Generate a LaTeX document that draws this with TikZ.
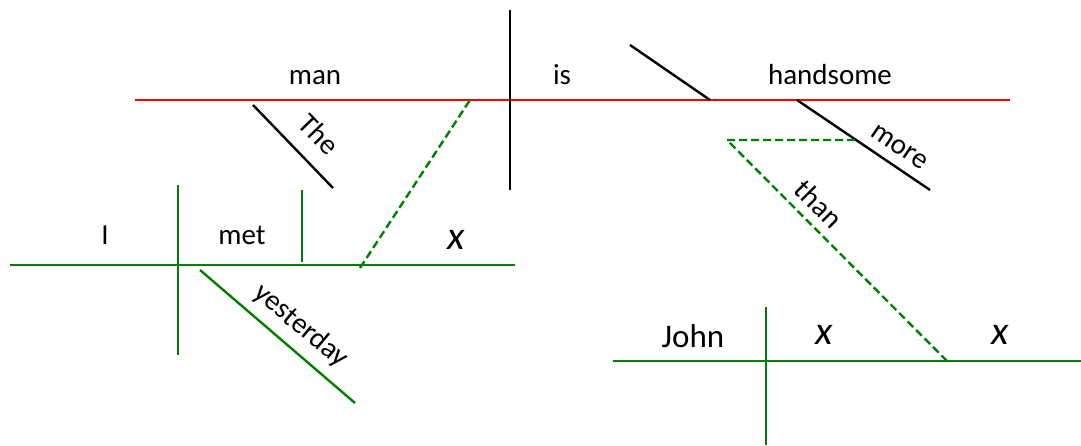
\documentclass[tikz,border=0pt]{standalone}
\usepackage{fontspec}
\setmainfont{Carlito}
\usepackage{tikz}
\usetikzlibrary{positioning, calc}
\definecolor{diagred}{RGB}{255,0,0}
\definecolor{diaggreen}{RGB}{0,128,0}

\begin{document}
\begin{tikzpicture}[x=0.5pt, y=-0.5pt,
  word/.style={font=\fontsize{14.5}{17}\selectfont, inner sep=0pt, anchor=base},
  bigword/.style={word, font=\fontsize{16.5}{19}\selectfont},
  var/.style={word, font=\fontsize{20}{23}\selectfont\itshape},
  slant/.style={font=\fontsize{14.5}{17}\selectfont, inner sep=0pt},
  mainline/.style={line width=1.2pt, diagred},
  subline/.style={line width=1.2pt, diaggreen},
  link/.style={line width=1.2pt, diaggreen, dash pattern=on 4pt off 2pt},
  modline/.style={line width=1.2pt, black}]
  \useasboundingbox (0,0) rectangle (1081,445);

  % main clause
  \coordinate (ml) at (135,100);
  \coordinate (mr) at (1010,100);
  \coordinate (vt) at (510,10);
  \coordinate (vb) at (510,190);
  \coordinate (pt) at (630,45);
  \coordinate (pb) at (710,100);
  \coordinate (tht) at (253,105);
  \coordinate (thb) at (333,188);
  \coordinate (mot) at (797,100);
  \coordinate (mob) at (930,190);
  \draw[mainline] (ml) -- (mr);
  \draw[modline] (vt) -- (vb);
  \draw[modline] (pt) -- (pb);
  \draw[modline] (tht) -- (thb);
  \draw[modline] (mot) -- (mob);
  \node[word] (man) at (315,84) {man};
  \node[word] (is) at (562,84) {is};
  \node[word] (hs) at (830,84) {handsome};
  \node[slant, rotate=-46] (the) at (319,134) {The};
  \node[slant, rotate=-34] (more) at (899,147) {more};

  % relative clause
  \coordinate (rl) at (10,265);
  \coordinate (rr) at (515,265);
  \coordinate (st) at (178,185);
  \coordinate (sb) at (178,355);
  \coordinate (ot) at (302,190);
  \coordinate (ob) at (302,262);
  \coordinate (yt) at (200,270);
  \coordinate (yb) at (355,403);
  \coordinate (rx) at (360,268);
  \coordinate (mx) at (470,100);
  \draw[subline] (rl) -- (rr);
  \draw[subline] (st) -- (sb);
  \draw[subline] (ot) -- (ob);
  \draw[subline] (yt) -- (yb);
  \draw[link] (rx) -- (mx);
  \node[word] (i) at (105,244) {I};
  \node[word] (met) at (242,244) {met};
  \node[var] (rxl) at (456,249) {x};
  \node[slant, rotate=-40] (yd) at (301,326) {yesterday};

  % comparative clause
  \coordinate (cl) at (613,361);
  \coordinate (cr) at (1081,361);
  \coordinate (ct) at (766,307);
  \coordinate (cb) at (766,445);
  \coordinate (tha) at (727,140);
  \coordinate (thm) at (855,140);
  \coordinate (thx) at (947,361);
  \draw[subline] (cl) -- (cr);
  \draw[subline] (ct) -- (cb);
  \draw[link] (thm) -- (tha) -- (thx);
  \node[bigword] (john) at (693,347) {John};
  \node[var] (cx1) at (824,344) {x};
  \node[var] (cx2) at (1000,344) {x};
  \node[slant, rotate=-45] (than) at (819,204) {than};
\end{tikzpicture}
\end{document}
